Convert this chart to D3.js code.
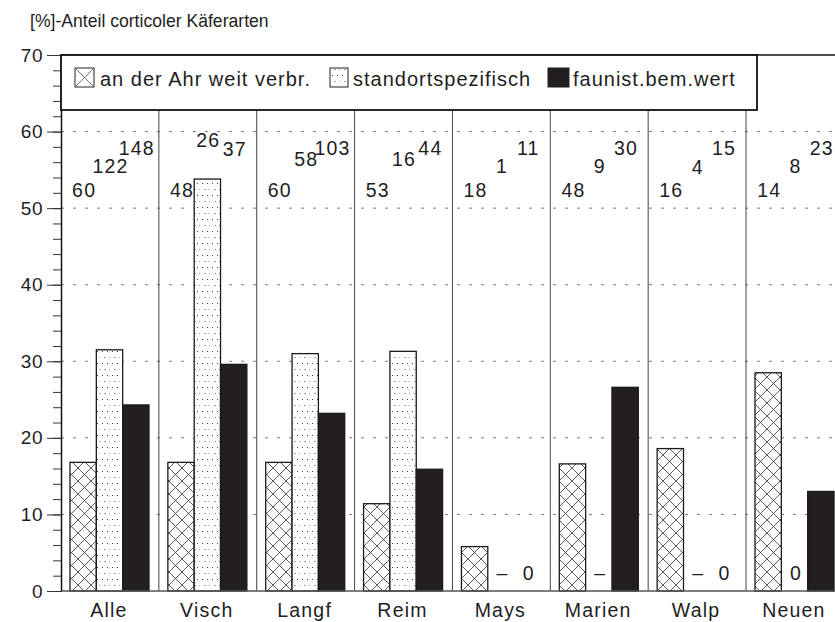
<!DOCTYPE html>
<html lang="de">
<head>
<meta charset="UTF-8">
<title>Anteil corticoler Käferarten</title>
<style>
    body { margin: 0; background: #fff; }
    svg { display: block; font-family: "Liberation Sans", Arial, Helvetica, sans-serif; }
    .lbl { fill: #1e1e1e; }
</style>
<script src="https://cdn.jsdelivr.net/npm/d3@7"></script>
</head>
<body>
<script>
    // categories (sites) and series
    const sites = ["Alle", "Visch", "Langf", "Reim", "Mays", "Marien", "Walp", "Neuen"];
    const seriesNames = ["an der Ahr weit verbr.", "standortspezifisch", "faunist.bem.wert"];

    // bar heights in percent
    const weitVerbr = [16.8, 16.8, 16.8, 11.4, 5.8, 16.6, 18.6, 28.5];
    const standort  = [31.5, 53.8, 31.0, 31.3, 0, 0, 0, 0];
    const faunist   = [24.3, 29.6, 23.2, 15.9, 0, 26.6, 0, 13.0];

    // species counts printed above each group
    const nWeit     = [60, 48, 60, 53, 18, 48, 16, 14];
    const nStandort = [122, 26, 58, 16, 1, 9, 4, 8];
    const nFaunist  = [148, 37, 103, 44, 11, 30, 15, 23];

    // height (in % units) at which each count is written
    const levelWeit     = [51.4, 51.4, 51.4, 51.4, 51.4, 51.4, 51.4, 51.4];
    const levelStandort = [54.6, 58.0, 55.5, 55.5, 54.6, 54.6, 54.4, 54.6];
    const levelFaunist  = [56.9, 56.8, 56.9, 56.9, 56.9, 56.9, 56.9, 56.9];

    // small marks written at the foot of empty bars
    const footStandort = ["", "", "", "", "\u2013", "\u2013", "\u2013", "0"];
    const footFaunist  = ["", "", "", "", "0", "", "0", ""];

    const yMajor = [0, 10, 20, 30, 40, 50, 60, 70];
    const gridValues = [10, 20, 30, 40, 50, 60];

    const W = 835, H = 622;
    const plot = { left: 61, top: 55, bottom: 591, right: 835 };
    const groupWidth = 97.86;

    const svg = d3.select("body").append("svg")
        .attr("width", W)
        .attr("height", H);

    // patterns
    const defs = svg.append("defs");
    const hatch = defs.append("pattern")
        .attr("id", "hatch")
        .attr("patternUnits", "userSpaceOnUse")
        .attr("width", 13).attr("height", 13);
    hatch.append("rect").attr("width", 13).attr("height", 13).attr("fill", "#fff");
    hatch.append("path")
        .attr("d", "M0,0L13,13M13,0L0,13M-1,12L1,14M12,-1L14,1M-1,1L1,-1M12,14L14,12")
        .attr("stroke", "#333").attr("stroke-width", 0.8).attr("fill", "none");

    const dots = defs.append("pattern")
        .attr("id", "dots")
        .attr("patternUnits", "userSpaceOnUse")
        .attr("width", 10).attr("height", 12);
    dots.append("rect").attr("width", 10).attr("height", 12).attr("fill", "#fff");
    [[2, 3], [7, 3], [4.5, 9], [9.5, 9]].forEach(([dx, dy]) => {
        dots.append("rect").attr("x", dx).attr("y", dy).attr("width", 1).attr("height", 1).attr("fill", "#444");
    });

    const fills = ["url(#hatch)", "url(#dots)", "#231f20"];

    // scales
    const x = d3.scaleBand()
        .domain(sites)
        .range([plot.left, plot.left + groupWidth * sites.length]);
    const xSub = d3.scaleBand()
        .domain(seriesNames)
        .range([9, 88]);
    const y = d3.scaleLinear()
        .domain([0, 70])
        .range([plot.bottom, plot.top]);

    // title
    svg.append("text")
        .attr("class", "lbl")
        .attr("x", 30).attr("y", 27)
        .attr("font-size", 17.6)
        .text("[%]-Anteil corticoler Käferarten");

    // dashed grid
    svg.append("g").selectAll("line")
        .data(gridValues)
        .join("line")
        .attr("x1", plot.left).attr("x2", plot.right)
        .attr("y1", d => y(d)).attr("y2", d => y(d))
        .attr("stroke", "#666")
        .attr("stroke-width", 0.9)
        .attr("stroke-dasharray", "3,9");

    // group separators
    svg.append("g").selectAll("line")
        .data(sites.slice(1))
        .join("line")
        .attr("x1", d => x(d)).attr("x2", d => x(d))
        .attr("y1", plot.bottom).attr("y2", plot.top)
        .attr("stroke", "#444")
        .attr("stroke-width", 1);

    // bars
    const seriesData = [weitVerbr, standort, faunist];
    seriesData.forEach((vals, s) => {
        svg.append("g").selectAll("rect")
            .data(vals.map((v, i) => ({ site: sites[i], v })).filter(d => d.v > 0))
            .join("rect")
            .attr("x", d => x(d.site) + xSub(seriesNames[s]))
            .attr("y", d => y(d.v))
            .attr("width", xSub.bandwidth())
            .attr("height", d => y(0) - y(d.v))
            .attr("fill", fills[s])
            .attr("stroke", "#1a1a1a")
            .attr("stroke-width", 1.3);
    });

    // counts above the groups
    const counts = [nWeit, nStandort, nFaunist];
    const levels = [levelWeit, levelStandort, levelFaunist];
    counts.forEach((vals, s) => {
        svg.append("g").selectAll("text")
            .data(vals.map((v, i) => ({ site: sites[i], v, lv: levels[s][i] })))
            .join("text")
            .attr("class", "lbl")
            .attr("x", d => x(d.site) + xSub(seriesNames[s]) + xSub.bandwidth() / 2 + 1)
            .attr("y", d => y(d.lv))
            .attr("text-anchor", "middle")
            .attr("font-size", 19.5)
            .attr("letter-spacing", 1.2)
            .text(d => d.v);
    });

    // marks at the foot of empty bars
    [[footStandort, 1], [footFaunist, 2]].forEach(([marks, s]) => {
        svg.append("g").selectAll("text")
            .data(marks.map((m, i) => ({ site: sites[i], m })).filter(d => d.m !== ""))
            .join("text")
            .attr("class", "lbl")
            .attr("x", d => x(d.site) + xSub(seriesNames[s]) + xSub.bandwidth() / 2 + 1)
            .attr("y", y(0) - 11)
            .attr("text-anchor", "middle")
            .attr("font-size", 19.5)
            .text(d => d.m);
    });

    // frame: top line and baseline
    svg.append("line")
        .attr("x1", plot.left).attr("x2", plot.right)
        .attr("y1", plot.top).attr("y2", plot.top)
        .attr("stroke", "#111").attr("stroke-width", 1.5);
    svg.append("line")
        .attr("x1", plot.left).attr("x2", plot.right)
        .attr("y1", plot.bottom).attr("y2", plot.bottom)
        .attr("stroke", "#555").attr("stroke-width", 1.5);

    // y axis: minor ticks then major ticks with labels
    svg.append("g")
        .attr("transform", `translate(${plot.left},0)`)
        .call(d3.axisLeft(y).tickValues(d3.range(0, 71, 2)).tickSize(8).tickFormat(""))
        .call(g => g.select(".domain").remove())
        .call(g => g.selectAll("line").attr("stroke", "#333"));
    svg.append("g")
        .attr("transform", `translate(${plot.left},0)`)
        .call(d3.axisLeft(y).tickValues(yMajor).tickSize(14).tickSizeOuter(0).tickPadding(4))
        .call(g => g.select(".domain").attr("stroke", "#111").attr("stroke-width", 1.5))
        .call(g => g.selectAll("line").attr("stroke", "#333"))
        .call(g => g.selectAll("text")
            .attr("class", "lbl")
            .attr("font-size", 19)
            .attr("letter-spacing", 0.5)
            .attr("font-family", "Liberation Sans, Arial, sans-serif"));

    // category labels
    svg.append("g").selectAll("text")
        .data(sites)
        .join("text")
        .attr("class", "lbl")
        .attr("x", d => x(d) + x.bandwidth() / 2 - 1)
        .attr("y", 617)
        .attr("text-anchor", "middle")
        .attr("font-size", 19.5)
        .attr("letter-spacing", 1.2)
        .text(d => d);

    // legend box
    const legend = svg.append("g");
    legend.append("rect")
        .attr("x", plot.left).attr("y", plot.top)
        .attr("width", 696).attr("height", 55)
        .attr("fill", "#fff")
        .attr("stroke", "#111").attr("stroke-width", 1.8);

    const legendX = [75, 330, 548];
    const swatchW = [19, 18, 21];
    const textGap = [6, 5, 4];
    seriesNames.forEach((name, s) => {
        const sx = legendX[s];
        const sw = legend.append("g");
        sw.append("rect")
            .attr("x", sx).attr("y", 68)
            .attr("width", swatchW[s]).attr("height", 19)
            .attr("fill", s === 2 ? fills[2] : "#fff")
            .attr("stroke", "#222").attr("stroke-width", 1);
        if (s === 0) {
            sw.append("path")
                .attr("d", `M${sx},68L${sx + 19},87M${sx + 19},68L${sx},87`)
                .attr("stroke", "#555").attr("stroke-width", 0.8);
        } else if (s === 1) {
            sw.append("rect")
                .attr("x", sx + 1).attr("y", 69)
                .attr("width", 16).attr("height", 17)
                .attr("fill", fills[1]);
        }
        legend.append("text")
            .attr("class", "lbl")
            .attr("x", sx + swatchW[s] + textGap[s])
            .attr("y", 86)
            .attr("font-size", 20)
            .attr("letter-spacing", 1)
            .text(name);
    });
</script>
</body>
</html>
